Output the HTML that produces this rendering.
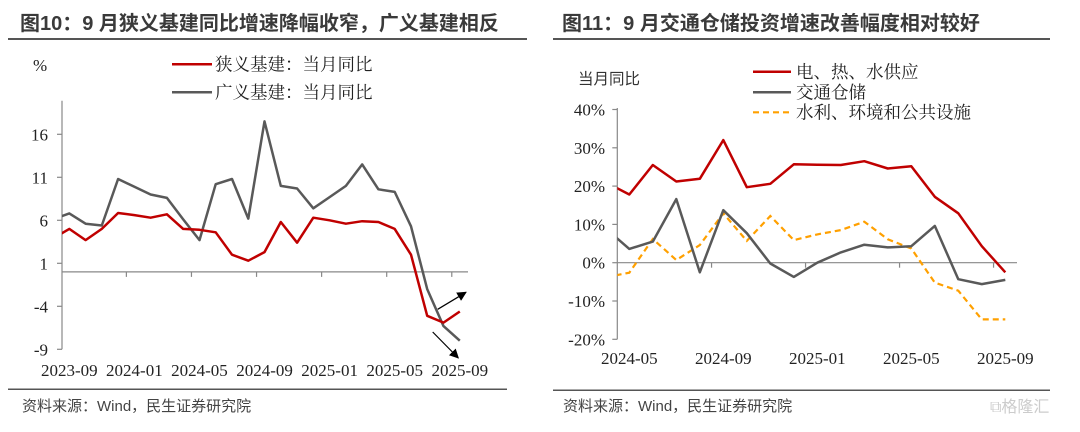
<!DOCTYPE html>
<html><head><meta charset="utf-8"><style>
body{margin:0;background:#fff;}
svg text{font-family:"Liberation Serif","Noto Serif CJK SC",serif;}
.t{font-family:"Liberation Sans","Noto Sans CJK SC",sans-serif;font-weight:bold;fill:#3a3a3a;font-size:20px;}
.f{font-family:"Liberation Sans","Noto Sans CJK SC",sans-serif;fill:#444;font-size:15px;}
.tk{font-size:17px;fill:#222;}
.lg{font-family:"Liberation Serif","Noto Serif CJK SC",serif;font-size:17.5px;fill:#222;}
</style></head><body>
<svg id="svg" width="1080" height="427" viewBox="0 0 1080 427" xmlns="http://www.w3.org/2000/svg">
<defs>
<clipPath id="cl"><rect x="62" y="90" width="420" height="280"/></clipPath>
<clipPath id="cr"><rect x="617.3" y="90" width="420" height="260"/></clipPath>
<marker id="ah" viewBox="0 0 10 10" refX="9" refY="5" markerWidth="8" markerHeight="8" orient="auto"><path d="M0,0L10,5L0,10z" fill="#000"/></marker>
</defs>
<g>
<text class="t" x="20" y="30">图10：9 月狭义基建同比增速降幅收窄，广义基建相反</text>
<rect x="8" y="38" width="519" height="2" fill="#555"/>
<rect x="8" y="388.5" width="499" height="1.5" fill="#555"/>
<text class="f" x="22" y="411">资料来源：Wind，民生证券研究院</text>
<text class="tk" x="33" y="71">%</text>
<line x1="172" y1="64.3" x2="212" y2="64.3" stroke="#c00000" stroke-width="2.5"/>
<text class="lg" x="215" y="70.5">狭义基建：当月同比</text>
<line x1="172" y1="92.3" x2="212" y2="92.3" stroke="#595959" stroke-width="2.5"/>
<text class="lg" x="215" y="98.5">广义基建：当月同比</text>
<g id="L"></g>
</g>
<g>
<text class="t" x="562" y="30">图11：9 月交通仓储投资增速改善幅度相对较好</text>
<rect x="553" y="38" width="497" height="2" fill="#555"/>
<rect x="553" y="389.5" width="497" height="1.5" fill="#555"/>
<text class="f" x="563" y="411">资料来源：Wind，民生证券研究院</text>
<text x="990" y="412" style="font-family:'Liberation Sans','Noto Sans CJK SC',sans-serif;font-size:16px;fill:#ccc">⧉格隆汇</text>
<text x="578" y="84" style="font-family:'Liberation Sans','Noto Sans CJK SC',sans-serif;font-size:15.5px;fill:#333">当月同比</text>
<line x1="753" y1="71.7" x2="791" y2="71.7" stroke="#c00000" stroke-width="2.5"/>
<text class="lg" x="796" y="78">电、热、水供应</text>
<line x1="753" y1="92.3" x2="791" y2="92.3" stroke="#595959" stroke-width="2.5"/>
<text class="lg" x="796" y="98.5">交通仓储</text>
<line x1="753" y1="112.3" x2="791" y2="112.3" stroke="#ffa000" stroke-width="2.2" stroke-dasharray="6,4"/>
<text class="lg" x="796" y="118.5">水利、环境和公共设施</text>
<g id="R"></g>
</g>
</svg>
<script>
// Left chart data (index -1 is a lead-in point clipped by the axis)
const leftLabels = ["2023-09","2024-01","2024-05","2024-09","2025-01","2025-05","2025-09"];
const leftYTicks = [16,11,6,1,-4,-9];
const narrowInfra = [3.9,5.0,3.7,5.0,6.85,6.6,6.3,6.7,5.0,4.9,4.6,2.0,1.3,2.3,5.8,3.4,6.3,6.0,5.6,5.9,5.8,5.0,2.0,-5.1,-5.9,-4.6];
const broadInfra = [6.1,6.8,5.6,5.4,10.8,9.9,9.0,8.6,6.1,3.7,10.2,10.8,6.2,17.5,10.0,9.7,7.4,8.7,10.0,12.5,9.6,9.3,5.3,-2.0,-6.3,-8.0];
// Right chart data
const rightLabels = ["2024-05","2024-09","2025-01","2025-05","2025-09"];
const rightYTicks = [40,30,20,10,0,-10,-20];
const powerSupply = [21.0,17.8,25.5,21.2,21.9,32.0,19.7,20.6,25.7,25.6,25.5,26.5,24.6,25.2,17.2,12.9,4.3,-2.5];
const transport = [8.9,3.6,5.5,16.6,-2.5,13.7,7.7,-0.2,-3.7,0.0,2.7,4.7,4.0,4.3,9.6,-4.3,-5.6,-4.5];
const waterEnv = [-3.8,-2.6,6.2,0.7,4.6,12.9,5.7,12.2,5.9,7.4,8.5,10.7,6.1,3.7,-5.2,-7.3,-14.8,-14.8];

const NS="http://www.w3.org/2000/svg";
function mk(tag,attrs,parent){const e=document.createElementNS(NS,tag);for(const k in attrs)e.setAttribute(k,attrs[k]);parent.appendChild(e);return e;}

// LEFT
const L=document.getElementById('L');
const lx=i=>69.3+i*16.27;
const ly=v=>271.9-v*8.6;
let e=mk('line',{x1:62,y1:100.7,x2:62,y2:349.3,stroke:'#888','stroke-width':1.2},L);


leftYTicks.forEach(v=>{
  let t=mk('line',{x1:57,y1:ly(v),x2:62,y2:ly(v),stroke:'#888','stroke-width':1.2},L);
  
  
  let tx=mk('text',{x:48,y:ly(v)+6,'text-anchor':'end',class:'tk'},L);tx.textContent=v;
  
  
});
e=mk('line',{x1:62,y1:ly(0),x2:468,y2:ly(0),stroke:'#888','stroke-width':1.2},L);


leftLabels.forEach((s,j)=>{
  const x=lx(j*4);
  if(j>0){let t=mk('line',{x1:x-8,y1:ly(0),x2:x-8,y2:ly(0)+5,stroke:'#888','stroke-width':1.2},L);
  
  }
  let tx=mk('text',{x:x,y:376,'text-anchor':'middle',class:'tk'},L);tx.textContent=s;
  
  
});
function path(arr,xf,yf){return arr.map((v,i)=>(i?'L':'M')+xf(i-1).toFixed(1)+','+yf(v).toFixed(1)).join('');}
e=mk('path',{d:path(broadInfra,lx,ly),fill:'none',stroke:'#595959','stroke-width':2.5,'stroke-linejoin':'round','clip-path':'url(#cl)'},L);


e=mk('path',{d:path(narrowInfra,lx,ly),fill:'none',stroke:'#c00000','stroke-width':2.5,'stroke-linejoin':'round','clip-path':'url(#cl)'},L);


e=mk('line',{x1:437.7,y1:309.3,x2:466,y2:292.3,stroke:'#000','stroke-width':1.2,'marker-end':'url(#ah)'},L);


e=mk('line',{x1:432.7,y1:332,x2:458.3,y2:358,stroke:'#000','stroke-width':1.2,'marker-end':'url(#ah)'},L);



// RIGHT
const R=document.getElementById('R');
const rx=i=>629.3+i*23.5;
const ry=v=>262.7-v*3.83;
e=mk('line',{x1:617.3,y1:108,x2:617.3,y2:339.3,stroke:'#888','stroke-width':1.2},R);


rightYTicks.forEach(v=>{
  let t=mk('line',{x1:612.3,y1:ry(v),x2:617.3,y2:ry(v),stroke:'#888','stroke-width':1.2},R);
  
  
  let tx=mk('text',{x:605,y:ry(v)+6,'text-anchor':'end',class:'tk'},R);tx.textContent=v+'%';
  
  
});
e=mk('line',{x1:617.3,y1:ry(0),x2:1017,y2:ry(0),stroke:'#888','stroke-width':1.2},R);


rightLabels.forEach((s,j)=>{
  const x=rx(j*4);
  if(j>0){let t=mk('line',{x1:x-11.75,y1:ry(0),x2:x-11.75,y2:ry(0)+5,stroke:'#888','stroke-width':1.2},R);
  
  }
  let tx=mk('text',{x:x,y:364,'text-anchor':'middle',class:'tk'},R);tx.textContent=s;
  
  
});
e=mk('path',{d:path(waterEnv,rx,ry),fill:'none',stroke:'#ffa000','stroke-width':2.2,'stroke-dasharray':'6,4','clip-path':'url(#cr)'},R);


e=mk('path',{d:path(transport,rx,ry),fill:'none',stroke:'#595959','stroke-width':2.5,'stroke-linejoin':'round','clip-path':'url(#cr)'},R);


e=mk('path',{d:path(powerSupply,rx,ry),fill:'none',stroke:'#c00000','stroke-width':2.5,'stroke-linejoin':'round','clip-path':'url(#cr)'},R);


</script>
</body></html>
